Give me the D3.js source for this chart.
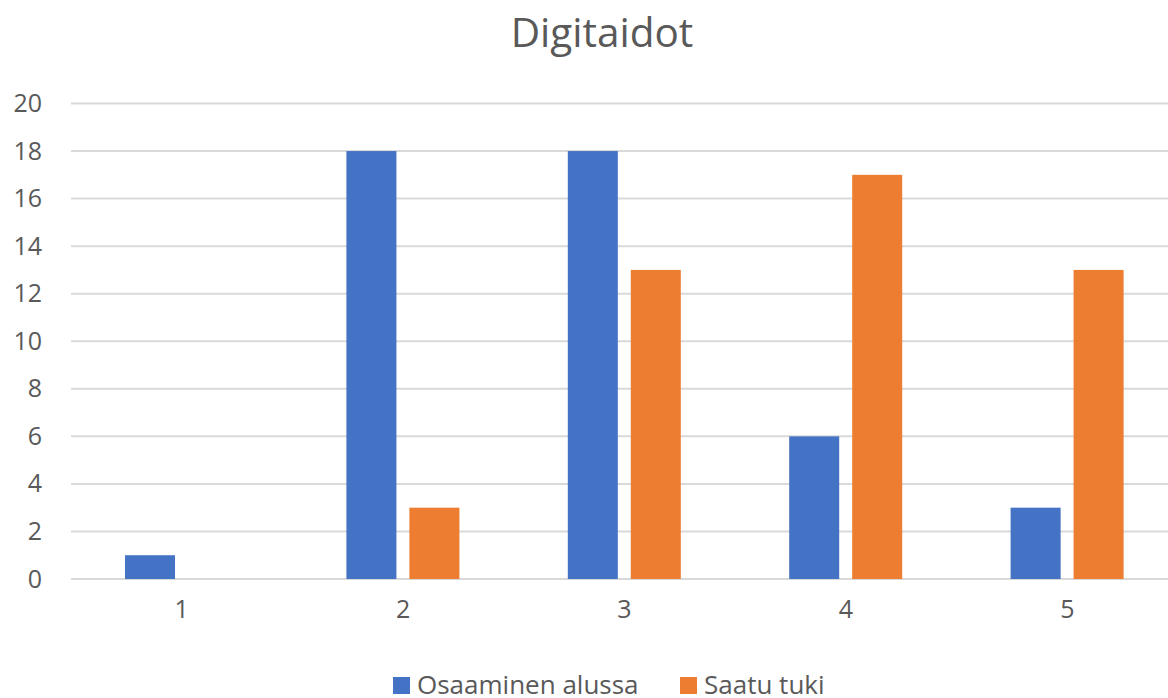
<!DOCTYPE html>
<html lang="fi">
<head>
  <meta charset="UTF-8">
  <title>Digitaidot</title>
  <script src="https://cdn.jsdelivr.net/npm/d3@7"></script>
  <style>
    body { margin: 0; background: #fff; }
    svg text { font-family: 'Open Sans', sans-serif; fill: #595959; }
  </style>
</head>
<body>
  <div id="chart"></div>
  <script>
    const categories = ["1", "2", "3", "4", "5"];
    const seriesNames = ["Osaaminen alussa", "Saatu tuki"];
    const osaaminenAlussa = [1, 18, 18, 6, 3];
    const saatuTuki = [0, 3, 13, 17, 13];
    const yTicks = [0, 2, 4, 6, 8, 10, 12, 14, 16, 18, 20];
    const colors = ["#4472C4", "#ED7D31"];

    const w = 1168, h = 698;
    const svg = d3.select("#chart").append("svg")
      .attr("width", w).attr("height", h);

    const rows = categories.map((c, i) => ({
      cat: c,
      values: [osaaminenAlussa[i], saatuTuki[i]]
    }));

    const x0 = d3.scaleBand().domain(categories).range([71, 1178]).padding(0);
    const x1 = d3.scaleBand().domain(seriesNames).range([54, 167]).paddingInner(0.206);
    const y = d3.scaleLinear().domain([0, 20]).range([579, 103.5]);

    // title
    svg.append("text")
      .attr("x", 602).attr("y", 47)
      .attr("text-anchor", "middle")
      .style("font-size", "40.5px")
      .text("Digitaidot");

    // gridlines
    svg.append("g").selectAll("line")
      .data(yTicks).enter().append("line")
      .attr("x1", 71).attr("x2", w)
      .attr("y1", d => y(d)).attr("y2", d => y(d))
      .attr("stroke", "#d9d9d9").attr("stroke-width", 2);

    // y axis labels
    const yAxis = d3.axisLeft(y).tickValues(yTicks).tickSize(0).tickPadding(0);
    svg.append("g")
      .attr("transform", "translate(42,0)")
      .call(yAxis)
      .call(g => g.select(".domain").remove())
      .call(g => g.selectAll("text").style("font-size", "25px").attr("fill", "#595959"));

    // x axis labels
    const xAxis = d3.axisBottom(x0).tickSize(0).tickPadding(0);
    svg.append("g")
      .attr("transform", "translate(0,600)")
      .call(xAxis)
      .call(g => g.select(".domain").remove())
      .call(g => g.selectAll("text").style("font-size", "25px").attr("fill", "#595959"));

    // bars
    const groups = svg.append("g").selectAll("g")
      .data(rows).enter().append("g")
      .attr("transform", d => "translate(" + x0(d.cat) + ",0)");

    groups.selectAll("rect")
      .data(d => d.values.map((v, i) => ({ name: seriesNames[i], value: v, i: i })))
      .enter().append("rect")
      .attr("x", d => x1(d.name))
      .attr("width", x1.bandwidth())
      .attr("y", d => y(d.value))
      .attr("height", d => y(0) - y(d.value))
      .attr("fill", d => colors[d.i]);

    // legend
    const legendX = [393, 680];
    const legend = svg.append("g").selectAll("g")
      .data(seriesNames).enter().append("g")
      .attr("transform", (d, i) => "translate(" + legendX[i] + ",0)");
    legend.append("rect")
      .attr("x", 0).attr("y", 677).attr("width", 17).attr("height", 17)
      .attr("fill", (d, i) => colors[i]);
    legend.append("text")
      .attr("x", 24).attr("y", 694)
      .style("font-size", "26px")
      .text(d => d);
  </script>
</body>
</html>
